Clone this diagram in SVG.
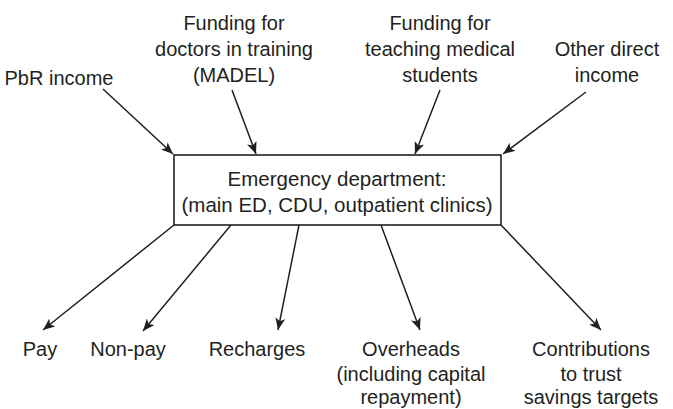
<svg xmlns="http://www.w3.org/2000/svg" width="673" height="409" viewBox="0 0 673 409">
<defs>
<marker id="ah" viewBox="0 0 12 10" refX="12" refY="5" markerWidth="12" markerHeight="10" markerUnits="userSpaceOnUse" orient="auto">
<path d="M0,0 L12,5 L0,10 L3,5 Z" fill="#231f20"/>
</marker>
<style>
text{font-family:"Liberation Sans","DejaVu Sans",sans-serif;font-size:20px;fill:#231f20;text-anchor:middle}
.big{font-size:20.5px}
.ln{stroke:#231f20;stroke-width:1.5;fill:none;marker-end:url(#ah)}
.box{fill:#fff;stroke:#231f20;stroke-width:1.6}
</style>
</defs>
<rect width="673" height="409" fill="#fff"/>
<g id="connectors">
<line class="ln" x1="103" y1="89" x2="173" y2="154"/>
<line class="ln" x1="232" y1="90" x2="256" y2="154"/>
<line class="ln" x1="440" y1="90" x2="415" y2="154"/>
<line class="ln" x1="586" y1="92" x2="503" y2="154"/>
<line class="ln" x1="174" y1="225" x2="43" y2="330"/>
<line class="ln" x1="231" y1="225" x2="143" y2="331"/>
<line class="ln" x1="299" y1="225" x2="278" y2="330"/>
<line class="ln" x1="381" y1="225" x2="420" y2="330"/>
<line class="ln" x1="501" y1="225" x2="601" y2="330"/>
</g>
<g id="ed">
<rect class="box" x="174" y="155" width="327" height="70"/>
<text class="big" x="337" y="186">Emergency department:</text>
<text class="big" x="337" y="212">(main ED, CDU, outpatient clinics)</text>
</g>
<g id="pbr"><text x="59" y="85">PbR income</text></g>
<g id="madel">
<text x="234" y="30">Funding for</text>
<text x="234" y="56">doctors in training</text>
<text x="234" y="82">(MADEL)</text>
</g>
<g id="teaching">
<text x="440" y="30">Funding for</text>
<text x="440" y="56">teaching medical</text>
<text x="440" y="82">students</text>
</g>
<g id="other">
<text x="607" y="56">Other direct</text>
<text x="607" y="82">income</text>
</g>
<g id="pay"><text x="40" y="356">Pay</text></g>
<g id="nonpay"><text x="128" y="356">Non-pay</text></g>
<g id="recharges"><text x="257" y="356">Recharges</text></g>
<g id="overheads">
<text x="411" y="356">Overheads</text>
<text x="411" y="381">(including capital</text>
<text x="411" y="404">repayment)</text>
</g>
<g id="contrib">
<text x="591" y="356">Contributions</text>
<text x="591" y="381">to trust</text>
<text x="591" y="404">savings targets</text>
</g>
</svg>
